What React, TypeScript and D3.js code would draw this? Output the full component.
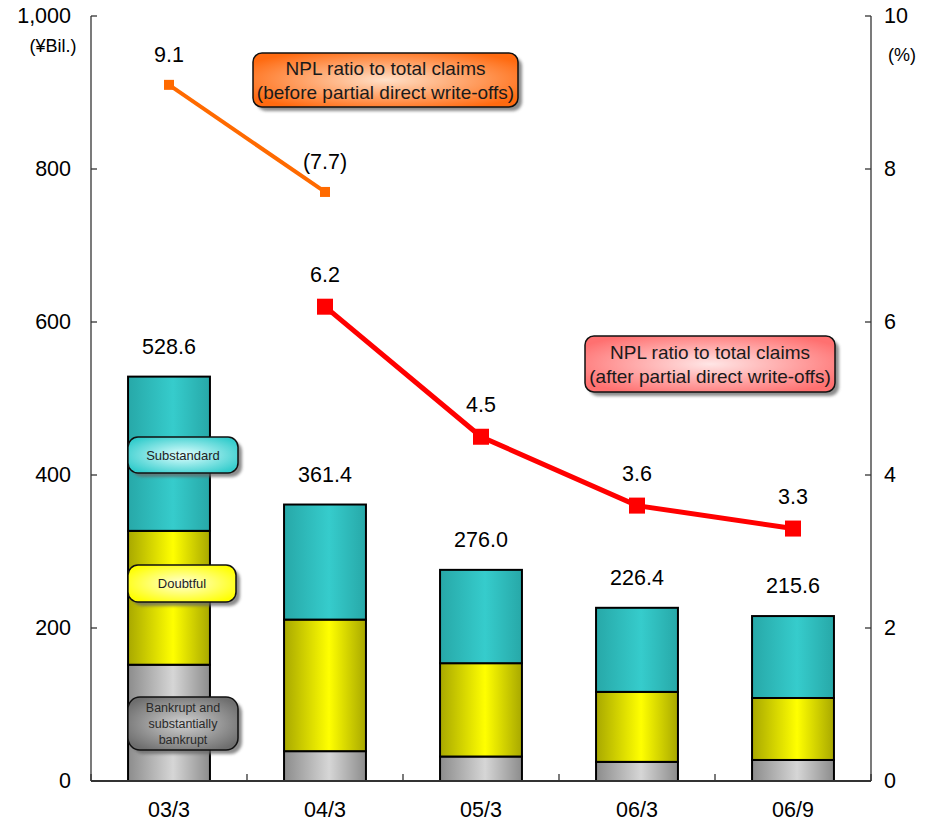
import React from "react";
import * as d3 from "d3";

const categories = ["03/3", "04/3", "05/3", "06/3", "06/9"];
const bankrupt = [152, 39, 32, 25, 27.5];
const doubtful = [175, 172, 122, 91.5, 81];
const substandard = [201.6, 150.4, 122, 109.9, 107.1];
const totals = ["528.6", "361.4", "276.0", "226.4", "215.6"];
const ratioBefore = [9.1, 7.7];
const ratioBeforeLabels = ["9.1", "(7.7)"];
const ratioAfter = [null, 6.2, 4.5, 3.6, 3.3];
const ratioAfterLabels = ["", "6.2", "4.5", "3.6", "3.3"];
const leftTicks = [0, 200, 400, 600, 800, 1000];
const rightTicks = [0, 2, 4, 6, 8, 10];

const W = 926;
const H = 822;
const X0 = 91;
const X1 = 871;
const Y0 = 781;
const Y1 = 16;
const FONT = "'Liberation Sans', Arial, sans-serif";

const segColors = [
  { id: "gGray", edge: "#8c8c8c", mid: "#d6d6d6" },
  { id: "gYellow", edge: "#a8a800", mid: "#ffff00" },
  { id: "gTeal", edge: "#27a8a8", mid: "#36cccc" },
];

export default function App() {
  const x = d3.scaleBand<string>().domain(categories).range([X0, X1]).padding(0);
  const y = d3.scaleLinear().domain([0, 1000]).range([Y0, Y1]);
  const y2 = d3.scaleLinear().domain([0, 10]).range([Y0, Y1]);
  const bw = x.bandwidth() * 0.525;
  const cx = (c: string) => (x(c) as number) + x.bandwidth() / 2;

  const stack = d3
    .stack<number>()
    .keys(["b", "d", "s"])
    .value((i, k) => (k === "b" ? bankrupt[i] : k === "d" ? doubtful[i] : substandard[i]));
  const series = stack(categories.map((_, i) => i));

  const line = d3
    .line<[number, number]>()
    .x((d) => d[0])
    .y((d) => d[1]);

  const beforePts: [number, number][] = ratioBefore.map((v, i) => [cx(categories[i]), y2(v)]);
  const afterPts: [number, number][] = ratioAfter
    .map((v, i) => (v == null ? null : ([cx(categories[i]), y2(v)] as [number, number])))
    .filter((p): p is [number, number] => p !== null);

  const callout = (
    bx: number,
    by: number,
    w: number,
    h: number,
    grad: string,
    lines: string[],
    fs: number,
    textColor: string,
    r = 8,
    lh = 24
  ) => (
    <g>
      <rect x={bx + 4} y={by + 4} width={w} height={h} rx={r} fill="#666" opacity={0.75} filter="url(#blur)" />
      <rect x={bx} y={by} width={w} height={h} rx={r} fill={`url(#${grad})`} stroke="#111" strokeWidth={1.5} />
      {lines.map((t, i) => (
        <text
          key={i}
          x={bx + w / 2}
          y={by + h / 2 + (i - (lines.length - 1) / 2) * lh}
          textAnchor="middle"
          dominantBaseline="central"
          fontSize={fs}
          fill={textColor}
          fontFamily={FONT}
        >
          {t}
        </text>
      ))}
    </g>
  );

  return (
    <svg width={W} height={H} style={{ position: "absolute", left: 0, top: 0, background: "#fff" }}>
      <defs>
        {segColors.map((c) => (
          <linearGradient key={c.id} id={c.id} x1="0" x2="1" y1="0" y2="0">
            <stop offset="0" stopColor={c.edge} />
            <stop offset="0.55" stopColor={c.mid} />
            <stop offset="1" stopColor={c.edge} />
          </linearGradient>
        ))}
        <radialGradient id="rOrange" cx="0.5" cy="0.5" r="0.6">
          <stop offset="0" stopColor="#ffe0c8" />
          <stop offset="1" stopColor="#ff6a10" />
        </radialGradient>
        <radialGradient id="rPink" cx="0.5" cy="0.5" r="0.6">
          <stop offset="0" stopColor="#ffe6e6" />
          <stop offset="1" stopColor="#ff7070" />
        </radialGradient>
        <radialGradient id="rTeal" cx="0.5" cy="0.5" r="0.6">
          <stop offset="0" stopColor="#e0ffff" />
          <stop offset="1" stopColor="#33cccc" />
        </radialGradient>
        <radialGradient id="rYellow" cx="0.5" cy="0.5" r="0.6">
          <stop offset="0" stopColor="#ffffd8" />
          <stop offset="1" stopColor="#ffff00" />
        </radialGradient>
        <radialGradient id="rGray" cx="0.5" cy="0.5" r="0.6">
          <stop offset="0" stopColor="#d0d0d0" />
          <stop offset="1" stopColor="#6e6e6e" />
        </radialGradient>
        <filter id="blur" x="-10%" y="-20%" width="120%" height="140%">
          <feGaussianBlur stdDeviation="1.5" />
        </filter>
      </defs>

      {/* stacked bars */}
      {series.map((s, si) =>
        s.map((d, i) => (
          <rect
            key={`${si}-${i}`}
            x={cx(categories[i]) - bw / 2}
            y={y(d[1])}
            width={bw}
            height={y(d[0]) - y(d[1])}
            fill={`url(#${segColors[si].id})`}
            stroke="#000"
            strokeWidth={2}
          />
        ))
      )}

      {/* axes */}
      <g stroke="#333" strokeWidth={1.3} fill="none">
        <line x1={X0} x2={X0} y1={Y1} y2={Y0} />
        <line x1={X1} x2={X1} y1={Y1} y2={Y0} />
        <line x1={X0} x2={X1} y1={Y0} y2={Y0} strokeWidth={1.8} />
        {leftTicks.map((t) => (
          <line key={`l${t}`} x1={X0} x2={X0 + 6} y1={y(t)} y2={y(t)} />
        ))}
        {rightTicks.map((t) => (
          <line key={`r${t}`} x1={X1} x2={X1 - 6} y1={y2(t)} y2={y2(t)} />
        ))}
        {categories.map((c) => (
          <line key={`c${c}`} x1={x(c)} x2={x(c)} y1={Y0} y2={Y0 - 7} />
        ))}
        <line x1={X1} x2={X1} y1={Y0} y2={Y0 - 7} />
      </g>

      <g fontFamily={FONT} fontSize={21.5} fill="#000">
        {leftTicks.map((t) => (
          <text key={`lt${t}`} x={71} y={y(t)} textAnchor="end" dominantBaseline="central">
            {d3.format(",")(t)}
          </text>
        ))}
        {rightTicks.map((t) => (
          <text key={`rt${t}`} x={884} y={y2(t)} textAnchor="start" dominantBaseline="central">
            {t}
          </text>
        ))}
        {categories.map((c) => (
          <text key={`ct${c}`} x={cx(c)} y={810} textAnchor="middle" dominantBaseline="central">
            {c}
          </text>
        ))}
      </g>
      <text x={53} y={46} textAnchor="middle" dominantBaseline="central" fontFamily={FONT} fontSize={18}>
        (¥Bil.)
      </text>
      <text x={902} y={55} textAnchor="middle" dominantBaseline="central" fontFamily={FONT} fontSize={18}>
        (%)
      </text>

      {/* bar totals */}
      <g fontFamily={FONT} fontSize={21.5} fill="#000">
        {categories.map((c, i) => (
          <text
            key={`tot${c}`}
            x={cx(c)}
            y={y(bankrupt[i] + doubtful[i] + substandard[i]) - 30}
            textAnchor="middle"
            dominantBaseline="central"
          >
            {totals[i]}
          </text>
        ))}
      </g>

      {/* NPL ratio lines */}
      <path d={line(beforePts) || ""} fill="none" stroke="#ff6a00" strokeWidth={4} />
      {beforePts.map((p, i) => (
        <rect key={`bm${i}`} x={p[0] - 5} y={p[1] - 5} width={10} height={10} fill="#ff6a00" />
      ))}
      <path d={line(afterPts) || ""} fill="none" stroke="#ff0000" strokeWidth={5} />
      {afterPts.map((p, i) => (
        <rect key={`am${i}`} x={p[0] - 8} y={p[1] - 8} width={16} height={16} fill="#ff0000" />
      ))}
      <g fontFamily={FONT} fontSize={21.5} fill="#000">
        {ratioBefore.map((v, i) => (
          <text key={`bl${i}`} x={cx(categories[i])} y={y2(v) - 30} textAnchor="middle" dominantBaseline="central">
            {ratioBeforeLabels[i]}
          </text>
        ))}
        {ratioAfter.map((v, i) =>
          v == null ? null : (
            <text key={`al${i}`} x={cx(categories[i])} y={y2(v) - 32} textAnchor="middle" dominantBaseline="central">
              {ratioAfterLabels[i]}
            </text>
          )
        )}
      </g>

      {/* callouts */}
      {callout(253, 53, 265, 54, "rOrange", ["NPL ratio to total claims", "(before partial direct write-offs)"], 19, "#1a1a1a", 9, 24)}
      {callout(585, 336, 250, 56, "rPink", ["NPL ratio to total claims", "(after partial direct write-offs)"], 19, "#1a1a1a", 9, 24)}
      {callout(128, 437, 110, 36, "rTeal", ["Substandard"], 13, "#222", 10)}
      {callout(128, 565, 108, 37, "rYellow", ["Doubtful"], 13, "#222", 10)}
      {callout(128, 697, 110, 53, "rGray", ["Bankrupt and", "substantially", "bankrupt"], 12.5, "#2a2a2a", 12, 16)}
    </svg>
  );
}
